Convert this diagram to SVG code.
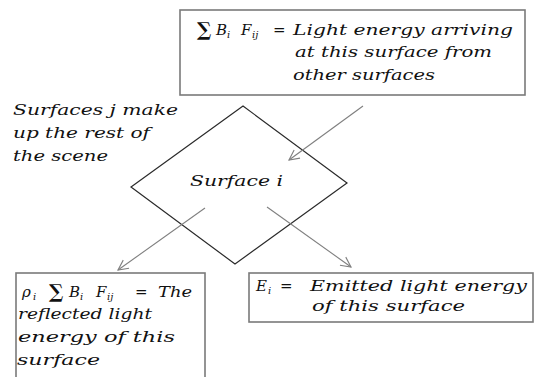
<svg xmlns="http://www.w3.org/2000/svg" width="535" height="377" viewBox="0 0 535 377">
<defs>
<style>
.box{fill:#fff;stroke:#7a7a7a;stroke-width:1.6}
.t{font-family:"DejaVu Serif","Liberation Serif",serif;font-style:italic;font-size:15px;fill:#111}
.m{font-family:"DejaVu Serif","Liberation Serif",serif;font-style:italic;font-size:15px;fill:#111}
.sub{font-size:10px}
.sum{font-family:"DejaVu Serif","Liberation Serif",serif;font-style:normal;font-weight:bold;font-size:19px;fill:#111}
.eq{font-family:"DejaVu Sans","Liberation Sans",sans-serif;font-style:normal;font-size:15px;fill:#111}
.conn{stroke:#7f7f7f;stroke-width:1.1;fill:none}
</style>
<marker id="ah" viewBox="0 0 12 12" refX="11" refY="6" markerWidth="12" markerHeight="12" markerUnits="userSpaceOnUse" orient="auto">
<path d="M1,1 L11,6 L1,11" fill="none" stroke="#7f7f7f" stroke-width="1.1"/>
</marker>
</defs>
<rect width="535" height="377" fill="#fff"/>

<g id="incoming">
<rect class="box" x="180" y="10" width="345" height="85"/>
<text class="sum" x="197" y="36">∑</text>
<text class="m" x="216" y="35">B</text><text class="m sub" x="227" y="38">i</text>
<text class="m" x="241" y="35">F</text><text class="m sub" x="252" y="38">ij</text>
<text class="eq" x="273" y="35">=</text>
<text class="t" x="293" y="35" textLength="220" lengthAdjust="spacingAndGlyphs">Light energy arriving</text>
<text class="t" x="295" y="57" textLength="197" lengthAdjust="spacingAndGlyphs">at this surface from</text>
<text class="t" x="293" y="80" textLength="142" lengthAdjust="spacingAndGlyphs">other surfaces</text>
</g>

<g id="scene-note">
<text class="t" x="13" y="115" textLength="165" lengthAdjust="spacingAndGlyphs">Surfaces j make</text>
<text class="t" x="13" y="138" textLength="137" lengthAdjust="spacingAndGlyphs">up the rest of</text>
<text class="t" x="13" y="161" textLength="95" lengthAdjust="spacingAndGlyphs">the scene</text>
</g>

<g id="surface">
<polygon points="243,106 347,183 235,264 131,187" fill="none" stroke="#2a2a2a" stroke-width="1.2"/>
<text class="t" x="190" y="186" textLength="93" lengthAdjust="spacingAndGlyphs">Surface i</text>
</g>

<g id="reflected">
<rect class="box" x="16" y="273" width="189" height="110"/>
<text class="m" x="22" y="297">ρ</text><text class="m sub" x="33" y="300">i</text>
<text class="sum" x="49" y="298">∑</text>
<text class="m" x="69" y="297">B</text><text class="m sub" x="80" y="300">i</text>
<text class="m" x="96" y="297">F</text><text class="m sub" x="107" y="300">ij</text>
<text class="eq" x="135" y="297">=</text>
<text class="t" x="158" y="297" textLength="34" lengthAdjust="spacingAndGlyphs">The</text>
<text class="t" x="18" y="319" textLength="134" lengthAdjust="spacingAndGlyphs">reflected light</text>
<text class="t" x="18" y="342" textLength="157" lengthAdjust="spacingAndGlyphs">energy of this</text>
<text class="t" x="17" y="365" textLength="83" lengthAdjust="spacingAndGlyphs">surface</text>
</g>

<g id="emitted">
<rect class="box" x="249" y="273" width="284" height="49"/>
<text class="m" x="256" y="291">E</text><text class="m sub" x="268" y="294">i</text>
<text class="eq" x="280" y="291">=</text>
<text class="t" x="310" y="291" textLength="217" lengthAdjust="spacingAndGlyphs">Emitted light energy</text>
<text class="t" x="312" y="311" textLength="153" lengthAdjust="spacingAndGlyphs">of this surface</text>
</g>

<g id="connectors">
<line class="conn" x1="363" y1="106" x2="289" y2="160" marker-end="url(#ah)"/>
<line class="conn" x1="205" y1="208" x2="118" y2="270" marker-end="url(#ah)"/>
<line class="conn" x1="267" y1="207" x2="351" y2="267" marker-end="url(#ah)"/>
</g>
</svg>
